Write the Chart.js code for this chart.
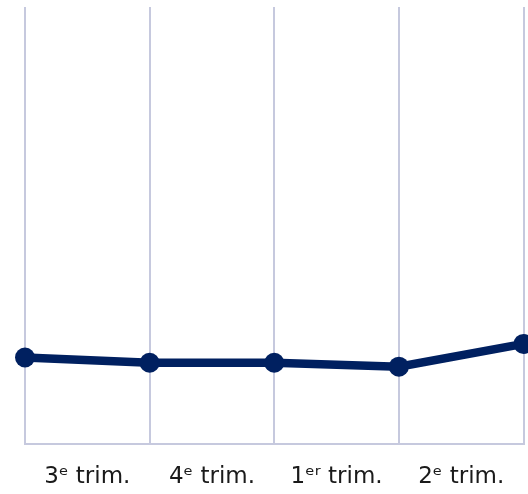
<!DOCTYPE html>
<html>
<head>
<meta charset="utf-8">
<script src="https://cdn.jsdelivr.net/npm/chart.js@4/dist/chart.umd.min.js"></script>
<style>
  html, body { margin: 0; padding: 0; background: #ffffff; }
  #wrap { width: 528px; height: 494px; position: relative; }
</style>
</head>
<body>
<div id="wrap"><canvas id="c" width="528" height="494"></canvas></div>
<script>
// Quarter labels (shown between the vertical grid lines)
const quarterLabels = ['3ᵉ trim.', '4ᵉ trim.', '1ᵉʳ trim.', '2ᵉ trim.'];
// Values at the quarter boundaries (positions 0..4)
const boundaryPositions = [0, 1, 2, 3, 4];
const seriesValues = [19.8, 18.6, 18.6, 17.7, 22.9];

const points = boundaryPositions.map((p, i) => ({ x: p, y: seriesValues[i] }));

new Chart(document.getElementById('c'), {
  type: 'line',
  data: {
    labels: quarterLabels,
    datasets: [{
      data: points,
      xAxisID: 'xv',
      yAxisID: 'y',
      borderColor: '#002060',
      backgroundColor: '#002060',
      borderWidth: 8.5,
      pointRadius: 10,
      pointHoverRadius: 10,
      pointBackgroundColor: '#002060',
      pointBorderWidth: 0,
      tension: 0,
      clip: false
    }]
  },
  options: {
    responsive: false,
    animation: false,
    events: [],
    layout: { autoPadding: false, padding: { left: 25, right: 4.5, top: 7, bottom: 0 } },
    plugins: { legend: { display: false }, tooltip: { enabled: false } },
    scales: {
      x: {
        type: 'category',
        position: 'bottom',
        offset: true,
        grid: {
          offset: true,
          color: '#c6c9de',
          lineWidth: 2,
          drawTicks: false
        },
        border: { display: true, color: '#c6c9de', width: 2 },
        ticks: {
          color: '#1a1a1a',
          padding: 19,
          maxRotation: 0,
          autoSkip: false,
          font: { family: 'DejaVu Sans', size: 23 }
        },
        afterFit: (s) => { s.height = 50; }
      },
      xv: {
        type: 'linear',
        display: false,
        min: 0,
        max: 4
      },
      y: {
        display: false,
        min: 0,
        max: 100
      }
    }
  }
});
</script>
</body>
</html>
